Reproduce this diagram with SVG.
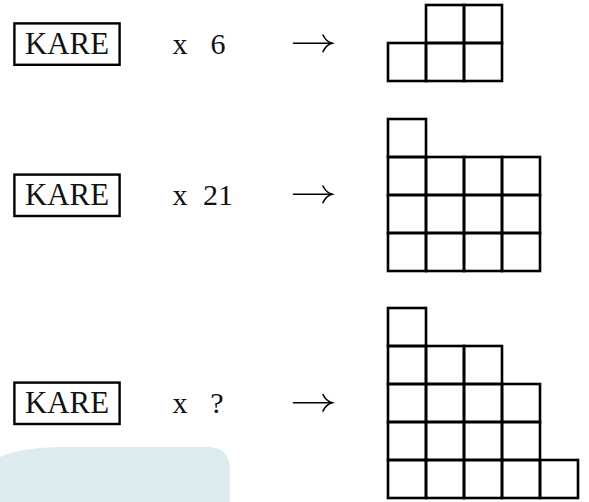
<svg xmlns="http://www.w3.org/2000/svg" xmlns:xlink="http://www.w3.org/1999/xlink" width="589" height="502" viewBox="0 0 589 502">
<style>
.box{fill:none;stroke:#000;stroke-width:2.4}
.t{font-family:"Liberation Serif","Times New Roman",serif;font-size:31px;fill:#111;text-anchor:middle}
.m{font-family:"Liberation Serif","Times New Roman",serif;font-size:30px;fill:#111;text-anchor:middle}
.c{fill:none;stroke:#000;stroke-width:2.6}
.arr{fill:none;stroke:#000;stroke-width:1.6;stroke-linecap:round}
</style>
<defs>
<g id="arrow">
<path class="arr" d="M0,0 H38.5"/>
<path class="arr" d="M29.5,-8.3 C31.5,-4 34.5,-1.2 38.6,0 C34.5,1.2 31.5,4 29.5,8.3"/>
</g>
</defs>
<path d="M0,457 C18,449 40,447 70,447 L207,447 Q230,447 230,470 L230,502 L0,502 Z" fill="#dcecee"/>

<g id="row1-kare">
<rect class="box" x="14.4" y="23.4" width="105.2" height="41.4"/>
<text class="t" x="67" y="54" textLength="84" lengthAdjust="spacingAndGlyphs">KARE</text>
</g>
<g id="row1-mult">
<text class="m" x="180" y="54">x</text>
<text class="m" x="218" y="54">6</text>
</g>
<g id="row1-grid">
<rect class="c" x="426" y="5" width="38" height="38"/>
<rect class="c" x="464" y="5" width="38" height="38"/>
<rect class="c" x="388" y="43" width="38" height="38"/>
<rect class="c" x="426" y="43" width="38" height="38"/>
<rect class="c" x="464" y="43" width="38" height="38"/>
</g>

<g id="row2-kare">
<rect class="box" x="14.4" y="174.6" width="105.2" height="41.4"/>
<text class="t" x="67" y="204.5" textLength="84" lengthAdjust="spacingAndGlyphs">KARE</text>
</g>
<g id="row2-mult">
<text class="m" x="180" y="204.5">x</text>
<text class="m" x="218" y="204.5">21</text>
</g>
<g id="row2-grid">
<rect class="c" x="388" y="119" width="38" height="38"/>
<rect class="c" x="388" y="157" width="38" height="38"/>
<rect class="c" x="426" y="157" width="38" height="38"/>
<rect class="c" x="464" y="157" width="38" height="38"/>
<rect class="c" x="502" y="157" width="38" height="38"/>
<rect class="c" x="388" y="195" width="38" height="38"/>
<rect class="c" x="426" y="195" width="38" height="38"/>
<rect class="c" x="464" y="195" width="38" height="38"/>
<rect class="c" x="502" y="195" width="38" height="38"/>
<rect class="c" x="388" y="233" width="38" height="38"/>
<rect class="c" x="426" y="233" width="38" height="38"/>
<rect class="c" x="464" y="233" width="38" height="38"/>
<rect class="c" x="502" y="233" width="38" height="38"/>
</g>

<g id="row3-kare">
<rect class="box" x="14.4" y="382.6" width="105.2" height="41.4"/>
<text class="t" x="67" y="412.8" textLength="84" lengthAdjust="spacingAndGlyphs">KARE</text>
</g>
<g id="row3-mult">
<text class="m" x="180" y="412.8">x</text>
<text class="m" x="217" y="412.8">?</text>
</g>
<g id="row3-grid">
<rect class="c" x="388" y="308" width="38" height="38"/>
<rect class="c" x="388" y="346" width="38" height="38"/>
<rect class="c" x="426" y="346" width="38" height="38"/>
<rect class="c" x="464" y="346" width="38" height="38"/>
<rect class="c" x="388" y="384" width="38" height="38"/>
<rect class="c" x="426" y="384" width="38" height="38"/>
<rect class="c" x="464" y="384" width="38" height="38"/>
<rect class="c" x="502" y="384" width="38" height="38"/>
<rect class="c" x="388" y="422" width="38" height="38"/>
<rect class="c" x="426" y="422" width="38" height="38"/>
<rect class="c" x="464" y="422" width="38" height="38"/>
<rect class="c" x="502" y="422" width="38" height="38"/>
<rect class="c" x="388" y="460" width="38" height="38"/>
<rect class="c" x="426" y="460" width="38" height="38"/>
<rect class="c" x="464" y="460" width="38" height="38"/>
<rect class="c" x="502" y="460" width="38" height="38"/>
<rect class="c" x="540" y="460" width="38" height="38"/>
</g>

<g id="connectors">
<use xlink:href="#arrow" x="293.5" y="43.3"/>
<use xlink:href="#arrow" x="293.5" y="194.3"/>
<use xlink:href="#arrow" x="293.5" y="402.8"/>
</g>
</svg>
